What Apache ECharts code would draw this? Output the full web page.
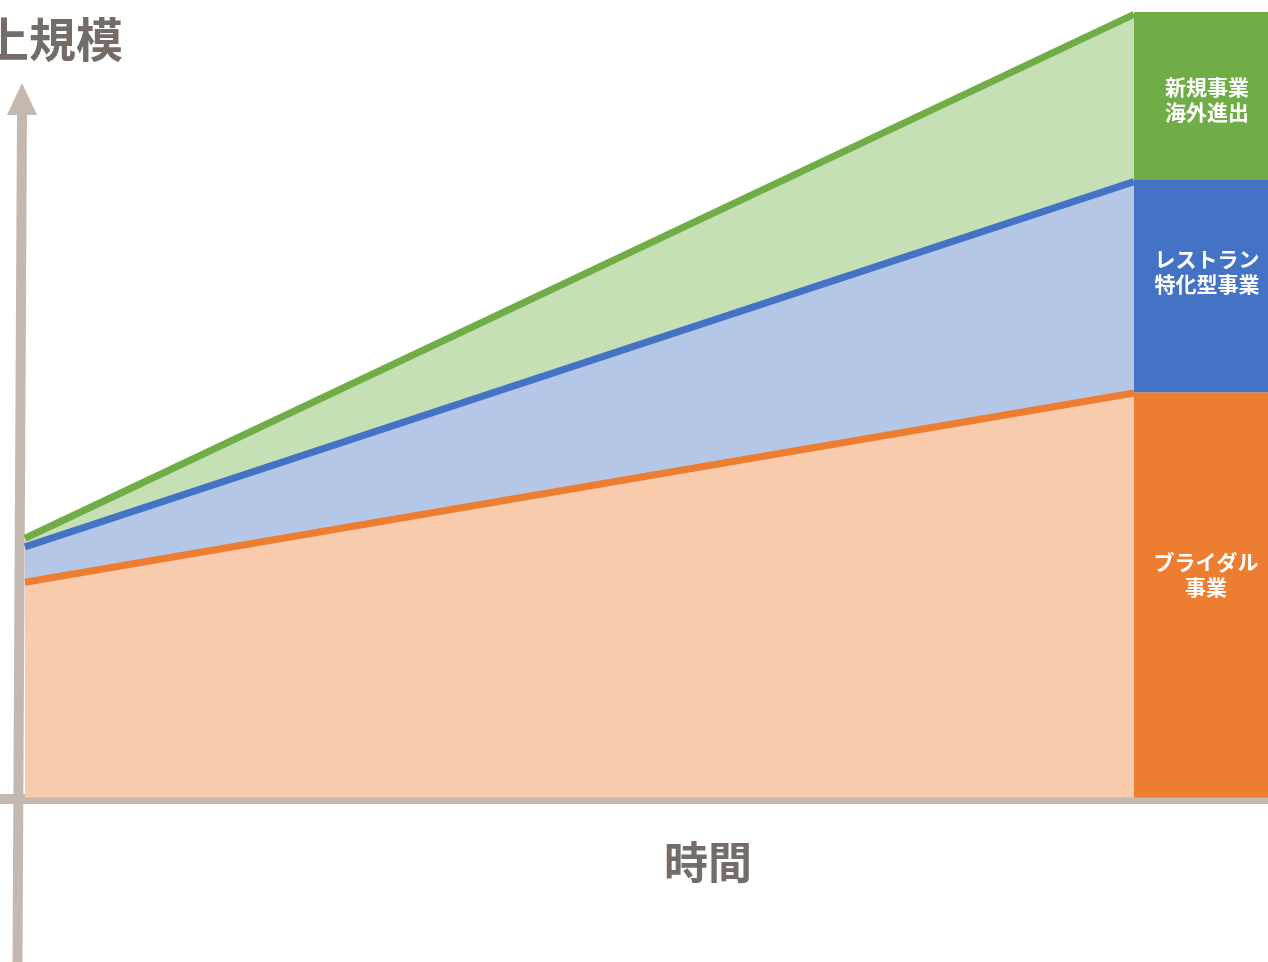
<!DOCTYPE html>
<html>
<head>
<meta charset="utf-8">
<script src="https://cdn.jsdelivr.net/npm/echarts@6/dist/echarts.min.js"></script>
<style>
html,body{margin:0;padding:0;background:#fff;}
#chart{width:1268px;height:962px;}
</style>
</head>
<body>
<div id="chart"></div>
<script>
// ---- data ----
const periods = ['現在', '将来'];
const bridal = [27.4, 51.5];       // ブライダル事業 (base layer)
const restaurant = [4.5, 26.9];    // レストラン特化型事業 (stacked)
const newBiz = [1.1, 21.3];        // 新規事業・海外進出 (stacked)
const blockCategory = ['内訳'];
const blockLabels = ['ブライダル\n事業', 'レストラン\n特化型事業', '新規事業\n海外進出'];
const blockValues = [51.6, 27.1, 21.3];
const yTitle = '売上規模';
const xTitle = '時間';

const FONT = '"Noto Sans CJK JP", "Noto Sans", sans-serif';
const AXIS_C = '#c4b9b1';
const TEXT_C = '#756c67';
const C = {
  orange: '#ed7d31', orangeA: '#f8cbad',
  blue: '#4472c4', blueA: '#b4c7e7',
  green: '#70ad47', greenA: '#c5e0b4'
};

const chart = echarts.init(document.getElementById('chart'), null, {renderer: 'canvas'});

function blockLabel(offset) {
  return {
    show: true, position: 'inside', color: '#fff', fontFamily: FONT,
    fontSize: 21, fontWeight: 'bold', lineHeight: 25, align: 'center', offset: offset
  };
}

const option = {
  backgroundColor: '#fff',
  animation: false,
  title: [
    {text: yTitle, left: -65, top: 16, padding: 0,
     textStyle: {fontFamily: FONT, fontSize: 47, fontWeight: 'bold', color: TEXT_C}},
    {text: xTitle, left: 664, top: 840, padding: 0,
     textStyle: {fontFamily: FONT, fontSize: 44, fontWeight: 'bold', color: TEXT_C}}
  ],
  grid: [
    {left: 25, right: 134, top: 12, bottom: 164.5},
    {left: 1134, right: 0, top: 12, bottom: 164.5}
  ],
  xAxis: [
    {gridIndex: 0, type: 'category', data: periods, boundaryGap: false, show: false},
    {gridIndex: 1, type: 'category', data: blockCategory, show: false}
  ],
  yAxis: [
    {gridIndex: 0, type: 'value', min: 0, max: 100, show: false},
    {gridIndex: 1, type: 'value', min: 0, max: 100, show: false}
  ],
  graphic: [
    {type: 'line', z: 0, shape: {x1: 0, y1: 799, x2: 1268, y2: 799},
     style: {stroke: AXIS_C, lineWidth: 10}},
    {type: 'line', z: 0, shape: {x1: 17.5, y1: 962, x2: 22, y2: 110},
     style: {stroke: AXIS_C, lineWidth: 10}},
    {type: 'polygon', z: 0, shape: {points: [[22, 83], [7, 115], [37, 115]]},
     style: {fill: AXIS_C}}
  ],
  series: [
    {name: 'ブライダル事業', type: 'line', stack: 'total', xAxisIndex: 0, yAxisIndex: 0,
     data: bridal, symbol: 'none', z: 5,
     lineStyle: {color: C.orange, width: 7}, areaStyle: {color: C.orangeA, opacity: 1}},
    {name: 'レストラン特化型事業', type: 'line', stack: 'total', xAxisIndex: 0, yAxisIndex: 0,
     data: restaurant, symbol: 'none', z: 4,
     lineStyle: {color: C.blue, width: 7}, areaStyle: {color: C.blueA, opacity: 1}},
    {name: '新規事業海外進出', type: 'line', stack: 'total', xAxisIndex: 0, yAxisIndex: 0,
     data: newBiz, symbol: 'none', z: 3,
     lineStyle: {color: C.green, width: 7}, areaStyle: {color: C.greenA, opacity: 1}},
    {type: 'bar', stack: 'blk', xAxisIndex: 1, yAxisIndex: 1, barWidth: '100%', z: 6,
     data: [blockValues[0]], itemStyle: {color: C.orange},
     label: Object.assign(blockLabel([5, -20]), {formatter: blockLabels[0]})},
    {type: 'bar', stack: 'blk', xAxisIndex: 1, yAxisIndex: 1, barWidth: '100%', z: 6,
     data: [blockValues[1]], itemStyle: {color: C.blue},
     label: Object.assign(blockLabel([6, -14]), {formatter: blockLabels[1]})},
    {type: 'bar', stack: 'blk', xAxisIndex: 1, yAxisIndex: 1, barWidth: '100%', z: 6,
     data: [blockValues[2]], itemStyle: {color: C.green},
     label: Object.assign(blockLabel([6, 4]), {formatter: blockLabels[2]})}
  ]
};
chart.setOption(option);
</script>
</body>
</html>
